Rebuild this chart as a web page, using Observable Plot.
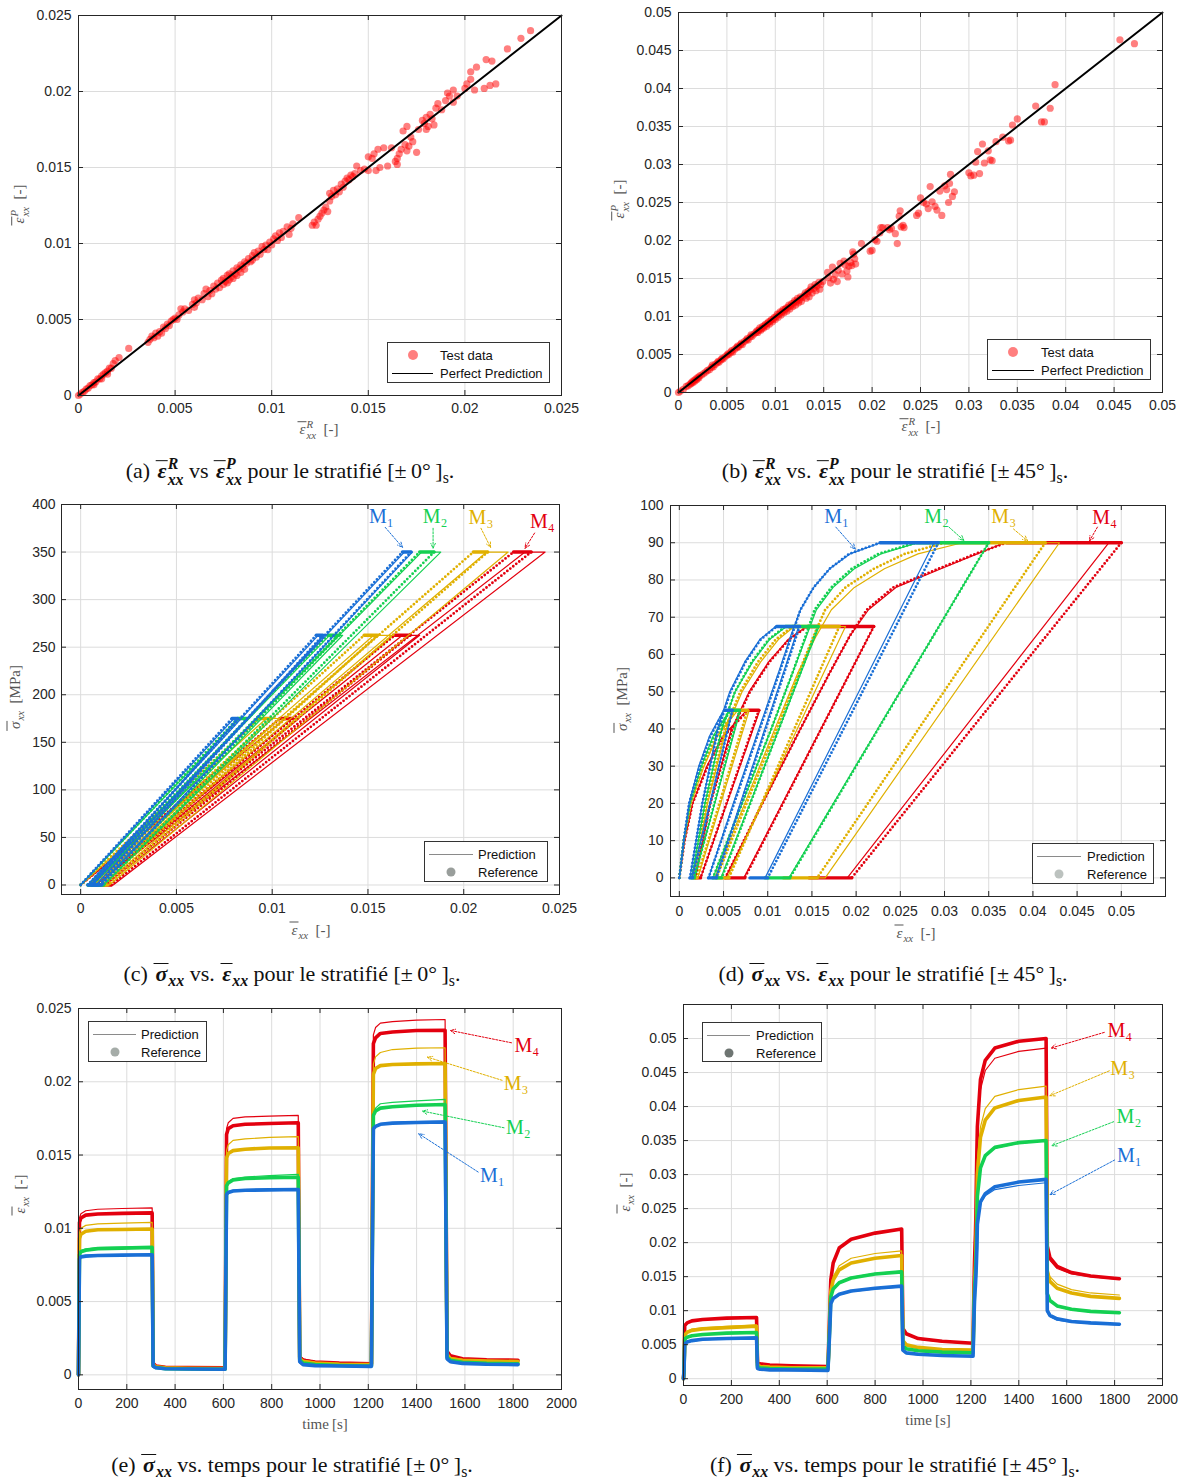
<!DOCTYPE html>
<html><head><meta charset="utf-8">
<script src="https://cdn.jsdelivr.net/npm/d3@7"></script>
<script src="https://cdn.jsdelivr.net/npm/@observablehq/plot@0.6"></script>
<style>
body{margin:0;background:#fff;}
#fig{position:relative;width:1188px;height:1479px;overflow:hidden;background:#fff;}
.panel{position:absolute;}
.cap{position:absolute;font-family:"Liberation Serif","Times New Roman",serif;font-size:22px;color:#111;white-space:nowrap;transform:translate(-50%,-50%);}
.lab{position:absolute;font-family:"Liberation Serif","Times New Roman",serif;font-size:15px;color:#555;white-space:nowrap;}
.xlab{transform:translate(-50%,-50%);}
.ylab{transform:translate(-50%,-50%) rotate(-90deg);}
.mth{font-style:italic;}
.mth.b{font-weight:bold;}
.ov{display:inline-block;border-top:1px solid currentColor;line-height:0.85;padding:1px 1px 0 2px;}
.mth.b .ov{border-top-width:1.6px;}
.ss{display:inline-block;vertical-align:-0.45em;font-size:0.72em;line-height:1.0;text-align:left;}
.ss span{display:block;}
sub{font-size:0.72em;line-height:0;}
.leg{position:absolute;border:1px solid #333;background:#fff;font-family:"Liberation Sans",Arial,sans-serif;font-size:13px;color:#111;box-sizing:border-box;}
.leg .t{position:absolute;transform:translateY(-50%);white-space:nowrap;}
.leg .ln{position:absolute;height:0;border-top:1.5px solid #888;}
.leg .dt{position:absolute;border-radius:50%;transform:translate(-50%,-50%);}
</style>
</head><body><div id="fig"></div>
<script>
// ---------------- DATA ----------------
// (a) scatter, laminate [±0°]s : [reference strain, predicted strain]
const pointsA = [
[0,0],[0.0001,0.0001],[0.0002,0.0002],[0.0003,0.00028],[0.0004,0.00042],[0.0005,0.00048],[0.0006,0.00065],[0.0007,0.0007],[0.0008,0.00085],[0.0009,0.0009],[0.001,0.0011],[0.0011,0.0011],[0.0012,0.0013],[0.0013,0.0014],[0.0014,0.0015],[0.0015,0.0016],[0.0016,0.0018],[0.0017,0.0018],[0.0018,0.0021],[0.0019,0.0023],[0.0021,0.0025],[0.0026,0.0031],[0.0008,0.0007],[0.0012,0.0011],[0.0015,0.0014],
[0.0036,0.0035],[0.0037,0.0037],[0.0038,0.0039],[0.0039,0.0038],[0.004,0.0041],[0.0041,0.0039],[0.0042,0.0042],[0.0043,0.0041],[0.0044,0.0045],[0.0045,0.0044],[0.0046,0.0047],[0.0047,0.0046],[0.0048,0.0049],[0.0049,0.005],[0.005,0.0051],[0.0051,0.005],[0.0052,0.0053],[0.0053,0.0057],
[0.0054,0.0055],[0.0055,0.0057],[0.0057,0.0056],[0.0059,0.006],[0.006,0.0058],[0.006,0.0063],[0.0061,0.0061],[0.0062,0.0064],[0.0064,0.0063],[0.0065,0.0067],[0.0066,0.007],[0.0067,0.0065],
[0.0068,0.0069],[0.0069,0.0067],[0.007,0.0072],[0.0071,0.007],[0.0072,0.0074],[0.0073,0.0071],[0.0074,0.0076],[0.0075,0.0073],[0.0075,0.0077],[0.0076,0.0075],[0.0077,0.0079],[0.0077,0.0074],[0.0078,0.008],[0.0078,0.0076],[0.0079,0.0078],[0.008,0.0082],[0.008,0.0077],[0.0081,0.008],[0.0082,0.0084],[0.0082,0.0079],[0.0083,0.0083],[0.0084,0.0086],[0.0084,0.0081],[0.0085,0.0085],[0.0086,0.0088],[0.0086,0.0083],[0.0087,0.0087],[0.0088,0.009],[0.0089,0.0088],[0.009,0.0092],[0.009,0.0089],[0.0091,0.0094],[0.0092,0.0091],[0.0093,0.0095],[0.0094,0.0093],[0.0095,0.0098],[0.0096,0.0096],[0.0097,0.0099],[0.0098,0.0096],[0.0099,0.0101],[0.01,0.0099],[0.0101,0.0103],[0.0102,0.0105],[0.0103,0.0102],[0.0104,0.0107],[0.0105,0.0104],[0.0106,0.0108],[0.0108,0.0111],[0.011,0.011],[0.0111,0.0113],[0.0114,0.0117],[0.0109,0.0106],
[0.0121,0.0112],[0.0122,0.0114],[0.0123,0.0112],[0.0124,0.0116],[0.0125,0.0118],[0.0126,0.012],[0.0127,0.0122],[0.0128,0.0124],[0.0129,0.0121],
[0.013,0.0128],[0.013,0.0133],[0.0131,0.0131],[0.0132,0.0135],[0.0133,0.0132],[0.0134,0.0136],[0.0135,0.0134],[0.0136,0.0139],[0.0137,0.0137],[0.0138,0.0141],[0.0139,0.0143],[0.014,0.0142],[0.0141,0.0145],[0.0142,0.0144],[0.0143,0.0146],
[0.0144,0.0151],[0.0146,0.0148],[0.0148,0.0149],[0.015,0.0157],[0.015,0.0148],[0.0152,0.0156],[0.0153,0.0159],[0.0154,0.0148],[0.0155,0.0162],[0.0156,0.015],[0.0158,0.0163],[0.016,0.0151],[0.0162,0.0163],
[0.0164,0.0154],[0.0165,0.0156],[0.0165,0.0152],[0.0166,0.0159],[0.0167,0.0162],[0.0169,0.0165],[0.017,0.0161],[0.0171,0.0164],[0.0172,0.017],[0.0173,0.0167],[0.0175,0.016],[0.017,0.0177],[0.0168,0.0174],
[0.0176,0.0175],[0.0178,0.0181],[0.0179,0.0179],[0.018,0.0183],[0.018,0.0175],[0.0181,0.0177],[0.0182,0.0185],[0.0183,0.0182],[0.0184,0.0178],[0.0185,0.0189],[0.0186,0.0192],[0.0188,0.0188],[0.019,0.0194],[0.0191,0.0199],[0.0192,0.0197],[0.0194,0.0201],[0.0194,0.0193],
[0.0196,0.0197],[0.02,0.0202],[0.0201,0.0205],[0.0203,0.0213],[0.0203,0.0208],[0.0205,0.0201],[0.0206,0.0216],[0.021,0.0202],[0.0211,0.0221],[0.0214,0.022],[0.0213,0.0204],[0.0216,0.0205],[0.0222,0.0228],[0.0229,0.0235],[0.0234,0.024]
];
// (b) scatter, laminate [±45°]s
const pointsB = [
[0,0],[0.0002,0.0002],[0.0005,0.0004],[0.0008,0.0008],[0.001,0.0009],[0.0012,0.0011],[0.0013,0.0012],[0.0014,0.0014],[0.0015,0.0013],[0.0016,0.0016],[0.0017,0.0015],[0.0018,0.0018],[0.0019,0.0017],[0.002,0.002],[0.0021,0.0019],[0.0022,0.0022],[0.0024,0.0023],[0.0026,0.0025],[0.0028,0.0027],
[0.003,0.0029],[0.0032,0.003],[0.0034,0.0033],[0.0035,0.0036],[0.0036,0.0034],[0.0038,0.0037],[0.004,0.0039],[0.0041,0.0041],[0.0042,0.004],[0.0044,0.0043],[0.0045,0.0045],[0.0046,0.0044],[0.0048,0.0047],[0.005,0.0049],[0.0051,0.0051],[0.0052,0.005],[0.0054,0.0053],[0.0055,0.0055],[0.0056,0.0053],[0.0058,0.0057],[0.006,0.0059],[0.0061,0.0061],[0.0062,0.006],[0.0064,0.0063],[0.0065,0.0065],[0.0066,0.0063],[0.0068,0.0067],[0.007,0.0069],[0.0071,0.0071],[0.0072,0.0069],[0.0074,0.0073],[0.0075,0.0076],[0.0076,0.0074],[0.0078,0.0077],[0.008,0.0079],[0.0081,0.0081],
[0.0082,0.0079],[0.0083,0.0082],[0.0084,0.0085],[0.0085,0.0082],[0.0086,0.0084],[0.0087,0.0087],[0.0088,0.0085],[0.0089,0.0088],[0.009,0.009],[0.0091,0.0087],[0.0092,0.0091],[0.0093,0.0093],[0.0094,0.009],[0.0095,0.0094],[0.0096,0.0096],[0.0097,0.0093],[0.0098,0.0097],[0.0099,0.0099],[0.01,0.0096],[0.0101,0.01],[0.0102,0.0103],[0.0103,0.0099],[0.0104,0.0103],[0.0105,0.0106],[0.0106,0.0102],[0.0107,0.0106],[0.0108,0.0109],[0.0109,0.0105],[0.011,0.0109],[0.0111,0.0111],[0.0112,0.0107],[0.0113,0.0112],[0.0114,0.0115],[0.0115,0.011],[0.0116,0.0114],[0.0117,0.0117],[0.0118,0.0113],[0.0119,0.0118],[0.012,0.0121],[0.0121,0.0115],[0.0122,0.012],[0.0123,0.0124],[0.0124,0.0118],[0.0125,0.0122],[0.0126,0.0126],[0.0127,0.012],[0.0128,0.0125],[0.013,0.0128],[0.0131,0.0131],[0.0132,0.0124],[0.0133,0.013],[0.0134,0.0133],[0.0135,0.0126],[0.0136,0.0135],[0.0137,0.0139],[0.0138,0.0131],[0.014,0.0137],[0.0141,0.0142],[0.0142,0.0134],[0.0143,0.014],[0.0145,0.0145],[0.0146,0.0136],[0.0147,0.0142],[0.0149,0.0146],
[0.0154,0.0158],[0.0155,0.0151],[0.0157,0.0144],[0.0159,0.0165],[0.016,0.0149],[0.0162,0.0155],[0.0164,0.0146],[0.0165,0.0161],[0.0167,0.017],[0.0169,0.0156],[0.0171,0.0173],[0.0172,0.0168],[0.0174,0.016],[0.0175,0.0152],[0.0176,0.0166],[0.0178,0.0171],[0.0179,0.0167],[0.018,0.0185],[0.0181,0.0182],[0.0182,0.0176],[0.0183,0.0169],[0.0189,0.0196],[0.0198,0.0186],[0.02,0.0187],[0.0203,0.0201],[0.0205,0.0199],
[0.0208,0.021],[0.0209,0.0217],[0.0211,0.0217],[0.0216,0.0217],[0.0218,0.0214],[0.022,0.0216],[0.0224,0.0209],[0.0226,0.0196],[0.0228,0.0232],[0.023,0.0218],[0.0233,0.0217],[0.0229,0.0239],[0.0232,0.022],[0.0246,0.0233],[0.0248,0.0236],[0.025,0.0256],[0.0253,0.025],[0.0256,0.0248],[0.0258,0.0242],[0.026,0.0271],[0.0262,0.0251],[0.0265,0.0245],[0.0267,0.024],[0.027,0.0265],[0.0272,0.0233],[0.0275,0.0272],[0.0277,0.0267],[0.0279,0.025],[0.0281,0.0287],[0.0283,0.0258],[0.0285,0.0264],[0.028,0.0275],
[0.03,0.0289],[0.0302,0.0285],[0.0305,0.0286],[0.0307,0.0303],[0.0309,0.0317],[0.0311,0.0288],[0.0314,0.0327],[0.0316,0.0302],[0.032,0.0318],[0.0322,0.0306],[0.0324,0.0305],[0.0328,0.033],[0.0335,0.0336],[0.0341,0.0331],[0.0343,0.0332],[0.0345,0.0352],[0.035,0.036],[0.0369,0.0377],[0.0375,0.0356],[0.0378,0.0356],[0.0384,0.0374],[0.0389,0.0405],[0.0456,0.0464],[0.0471,0.0459]
];
const perfectA = [0, 0.025];
const perfectB = [0, 0.05];

// [±0°]s creep-recovery history (panels c, e)
const time0   = [0,4,10,30,80,180,305,309,320,360,450,607,613,620,640,690,790,910,916,930,980,1080,1213,1221,1230,1250,1300,1400,1518,1526,1540,1590,1690,1820];
const stress0 = [0,175,175,175,175,175,175,0,0,0,0,0,262.5,262.5,262.5,262.5,262.5,262.5,0,0,0,0,0,350,350,350,350,350,350,0,0,0,0,0];
const m1Ref0  = [0,0.0079,0.00805,0.0081,0.00814,0.00817,0.0082,0.0006,0.00048,0.00042,0.0004,0.00038,0.0123,0.01245,0.01255,0.0126,0.01262,0.01265,0.0009,0.0007,0.00063,0.0006,0.00058,0.0168,0.01695,0.0171,0.01718,0.01722,0.01725,0.0011,0.0009,0.00078,0.00072,0.0007];
const m1Pred0 = [0,0.008,0.0081,0.00815,0.00818,0.0082,0.00822,0.0005,0.00045,0.0004,0.00038,0.00036,0.0124,0.0125,0.0126,0.01265,0.01268,0.0127,0.0008,0.0007,0.00062,0.00058,0.00056,0.0169,0.017,0.01715,0.01722,0.01728,0.01732,0.001,0.00085,0.00076,0.0007,0.00068];
const m2Ref0  = [0,0.0082,0.0084,0.0085,0.0086,0.00865,0.0087,0.0006,0.0005,0.00042,0.0004,0.00038,0.0129,0.0131,0.0133,0.0134,0.01345,0.01348,0.001,0.0008,0.0007,0.00064,0.0006,0.0177,0.018,0.0182,0.0183,0.0184,0.01845,0.0012,0.001,0.00085,0.00078,0.00075];
const m2Pred0 = [0,0.0083,0.0085,0.0086,0.0087,0.00872,0.00875,0.0006,0.0005,0.00043,0.0004,0.00039,0.013,0.0132,0.0134,0.0135,0.0136,0.01368,0.001,0.0008,0.0007,0.00065,0.00062,0.0178,0.0182,0.0185,0.0186,0.0187,0.0188,0.0012,0.001,0.00086,0.0008,0.00077];
const m3Ref0  = [0,0.0093,0.0096,0.0098,0.0099,0.00992,0.00995,0.0007,0.00055,0.00048,0.00045,0.00043,0.0148,0.0151,0.0153,0.0154,0.01548,0.0155,0.0011,0.0009,0.0008,0.00072,0.0007,0.0205,0.0209,0.0211,0.02118,0.02122,0.02125,0.0014,0.0011,0.001,0.00095,0.0009];
const m3Pred0 = [0,0.0097,0.01,0.0102,0.0103,0.01035,0.0104,0.0007,0.0006,0.0005,0.00048,0.00046,0.0153,0.0157,0.016,0.0161,0.0162,0.01625,0.0012,0.001,0.00085,0.00078,0.00074,0.0212,0.0217,0.022,0.0222,0.0223,0.02232,0.0015,0.0012,0.00105,0.00098,0.00095];
const m4Ref0  = [0,0.0104,0.0107,0.0109,0.01098,0.01102,0.01105,0.0008,0.0006,0.00052,0.0005,0.00048,0.0164,0.0168,0.017,0.0171,0.01715,0.0172,0.0012,0.001,0.00088,0.0008,0.00076,0.0226,0.023,0.0233,0.0234,0.0235,0.02352,0.0016,0.0013,0.0011,0.00102,0.001];
const m4Pred0 = [0,0.0107,0.011,0.0112,0.0113,0.01135,0.0114,0.0008,0.00065,0.00055,0.0005,0.00048,0.0168,0.0172,0.0175,0.0176,0.01765,0.0177,0.0013,0.0011,0.0009,0.00082,0.00078,0.0232,0.0237,0.024,0.0241,0.0242,0.02425,0.0017,0.0013,0.0011,0.00104,0.001];

// [±45°]s creep-recovery history (panels d, f)
const time45   = [0,1,2,3,4,5, 15,35,80,180,305, 309, 320,360,450,603, 605,607,609,611,613,615, 625,650,700,800,911, 916, 930,980,1080,1209, 1211,1213,1215,1217,1219,1221,1223,1225,1227, 1240,1260,1300,1400,1514, 1519, 1530,1560,1620,1700,1820];
const stress45 = [0,10,20,30,38,45, 45,45,45,45,45, 0, 0,0,0,0, 20,40,50,58,64,67.5, 67.5,67.5,67.5,67.5,67.5, 0, 0,0,0,0, 20,40,55,65,72,78,83,87,90, 90,90,90,90,90, 0, 0,0,0,0,0];
const m1Ref45  = [0,0.0005,0.0011,0.0023,0.0035,0.0051, 0.0054,0.0056,0.0058,0.0059,0.006, 0.0015, 0.0014,0.0013,0.0013,0.0012, 0.0026,0.0044,0.0058,0.0075,0.0092,0.011, 0.0118,0.0124,0.0129,0.0133,0.0136, 0.0042, 0.0038,0.0036,0.0034,0.0033, 0.0062,0.0091,0.0113,0.0127,0.0137,0.0152,0.017,0.0192,0.0227, 0.026,0.0272,0.0282,0.0289,0.0293, 0.01, 0.0093,0.0088,0.0084,0.0082,0.008];
const m1Pred45 = [0,0.0005,0.0011,0.0022,0.0034,0.005, 0.0053,0.0055,0.0057,0.0059,0.006, 0.0014, 0.0013,0.0013,0.0012,0.0012, 0.0026,0.0043,0.0057,0.0074,0.0091,0.0109, 0.0117,0.0123,0.0128,0.0132,0.0135, 0.0041, 0.0037,0.0035,0.0034,0.0033, 0.0061,0.009,0.0112,0.0126,0.0137,0.0152,0.017,0.0193,0.0228, 0.0258,0.0269,0.0278,0.0284,0.0288, 0.0097, 0.0091,0.0086,0.0083,0.0081,0.0079];
const m2Ref45  = [0,0.0005,0.0012,0.0025,0.0039,0.0058, 0.0061,0.0063,0.0065,0.0067,0.0068, 0.0017, 0.0016,0.0015,0.0014,0.0014, 0.0029,0.0048,0.0063,0.0082,0.0101,0.012, 0.0132,0.0141,0.0148,0.0154,0.0157, 0.0048, 0.0044,0.0041,0.0039,0.0038, 0.0071,0.0104,0.0128,0.0143,0.0153,0.0172,0.0195,0.0225,0.0268, 0.031,0.0328,0.034,0.0347,0.035, 0.0125, 0.0115,0.0107,0.0102,0.0099,0.0097];
const m2Pred45 = [0,0.0005,0.0012,0.0025,0.0038,0.0057, 0.006,0.0063,0.0065,0.0067,0.0069, 0.0017, 0.0016,0.0015,0.0015,0.0014, 0.0029,0.0048,0.0063,0.0083,0.0102,0.0121, 0.0133,0.0142,0.0149,0.0155,0.0158, 0.0047, 0.0043,0.0041,0.0039,0.0038, 0.0071,0.0104,0.0128,0.0144,0.0155,0.0174,0.0198,0.0228,0.027, 0.0308,0.0327,0.0339,0.0346,0.035, 0.0124, 0.0114,0.0106,0.0101,0.0098,0.0096];
const m3Ref45  = [0,0.0005,0.0013,0.0027,0.0042,0.0064, 0.0068,0.0071,0.0073,0.0075,0.0077, 0.002, 0.0018,0.0017,0.0016,0.0016, 0.0031,0.0052,0.0069,0.0089,0.0109,0.0128, 0.0145,0.016,0.017,0.0177,0.0181, 0.0056, 0.005,0.0046,0.0043,0.0042, 0.0076,0.011,0.0135,0.0152,0.0165,0.0188,0.022,0.0255,0.03, 0.0355,0.038,0.0398,0.0409,0.0414, 0.0156, 0.0143,0.0133,0.0126,0.0121,0.0118];
const m3Pred45 = [0,0.0005,0.0013,0.0028,0.0043,0.0066, 0.007,0.0073,0.0075,0.0077,0.0079, 0.0021, 0.0019,0.0018,0.0017,0.0016, 0.0032,0.0053,0.0071,0.0092,0.0112,0.013, 0.015,0.0166,0.0177,0.0184,0.0188, 0.0054, 0.0048,0.0044,0.0041,0.004, 0.0074,0.0108,0.0134,0.0155,0.0172,0.0198,0.0232,0.027,0.032, 0.037,0.0397,0.0415,0.0425,0.043, 0.0165, 0.015,0.0139,0.0131,0.0126,0.0123];
const m4Ref45  = [0,0.0006,0.0015,0.0032,0.005,0.0078, 0.0082,0.0085,0.0087,0.0089,0.009, 0.0024, 0.0022,0.002,0.0019,0.0018, 0.0035,0.006,0.008,0.0102,0.0124,0.0145, 0.017,0.0192,0.0205,0.0214,0.022, 0.0074, 0.0066,0.0059,0.0055,0.0052, 0.0094,0.0137,0.017,0.0193,0.0212,0.0242,0.0293,0.0335,0.037, 0.044,0.0468,0.0486,0.0496,0.05, 0.0195, 0.0178,0.0165,0.0156,0.0151,0.0147];
const m4Pred45 = [0,0.0006,0.0015,0.0031,0.0049,0.0076, 0.0081,0.0085,0.0087,0.0089,0.0091, 0.0024, 0.0022,0.002,0.0019,0.0018, 0.0035,0.0059,0.0079,0.0101,0.0123,0.0144, 0.017,0.0192,0.0205,0.0214,0.022, 0.0073, 0.0065,0.0058,0.0054,0.0052, 0.0094,0.0137,0.017,0.0193,0.0214,0.0245,0.0296,0.0337,0.0368, 0.0425,0.0453,0.0471,0.0481,0.0486, 0.019, 0.0174,0.0162,0.0154,0.015,0.0146];

// tick values
const ticksA = [0,0.005,0.01,0.015,0.02,0.025];
const ticksB = [0,0.005,0.01,0.015,0.02,0.025,0.03,0.035,0.04,0.045,0.05];
const stressTicks0 = [0,50,100,150,200,250,300,350,400];
const stressTicks45 = [0,10,20,30,40,50,60,70,80,90,100];
const timeTicks = [0,200,400,600,800,1000,1200,1400,1600,1800,2000];

// material labels and their arrow annotations
const annC = [
 {mat:"M1",label:"M₁",tx:0.0157,ty:387,x1:0.0159,y1:376,x2:0.0168,y2:355},
 {mat:"M2",label:"M₂",tx:0.0185,ty:387,x1:0.0184,y1:375,x2:0.0184,y2:354},
 {mat:"M3",label:"M₃",tx:0.0209,ty:386,x1:0.0209,y1:375,x2:0.0214,y2:355},
 {mat:"M4",label:"M₄",tx:0.0241,ty:382,x1:0.0237,y1:370,x2:0.0232,y2:354}];
const annD = [
 {mat:"M1",label:"M₁",tx:0.0178,ty:97,x1:0.0177,y1:94.2,x2:0.0199,y2:88.3},
 {mat:"M2",label:"M₂",tx:0.0291,ty:97,x1:0.0305,y1:94.2,x2:0.0322,y2:90.6},
 {mat:"M3",label:"M₃",tx:0.0367,ty:97,x1:0.0378,y1:93.7,x2:0.0394,y2:90.5},
 {mat:"M4",label:"M₄",tx:0.0481,ty:96.8,x1:0.0473,y1:94.2,x2:0.0464,y2:90.5}];
const annE = [
 {mat:"M4",label:"M₄",tx:1857,ty:0.02245,x1:1793,y1:0.02266,x2:1540,y2:0.0235},
 {mat:"M3",label:"M₃",tx:1812,ty:0.0199,x1:1754,y1:0.0201,x2:1445,y2:0.02168},
 {mat:"M2",label:"M₂",tx:1821,ty:0.0169,x1:1762,y1:0.01686,x2:1424,y2:0.018},
 {mat:"M1",label:"M₁",tx:1714,ty:0.01361,x1:1655,y1:0.01384,x2:1409,y2:0.01645}];
const annF = [
 {mat:"M4",label:"M₄",tx:1822,ty:0.0512,x1:1757,y1:0.0509,x2:1535,y2:0.0486},
 {mat:"M3",label:"M₃",tx:1834,ty:0.0456,x1:1778,y1:0.04525,x2:1530,y2:0.0416},
 {mat:"M2",label:"M₂",tx:1860,ty:0.0385,x1:1796,y1:0.03777,x2:1538,y2:0.03425},
 {mat:"M1",label:"M₁",tx:1862,ty:0.0328,x1:1800,y1:0.03214,x2:1530,y2:0.02706}];

// ---------------- STYLE ----------------
const COLORS = {M1:"#1a6fd6", M2:"#14d052", M3:"#e0b000", M4:"#e3000f"};
const DRAW_ORDER = ["M4","M3","M2","M1"];

const ref0  = {M1:m1Ref0, M2:m2Ref0, M3:m3Ref0, M4:m4Ref0};
const pred0 = {M1:m1Pred0, M2:m2Pred0, M3:m3Pred0, M4:m4Pred0};
const ref45  = {M1:m1Ref45, M2:m2Ref45, M3:m3Ref45, M4:m4Ref45};
const pred45 = {M1:m1Pred45, M2:m2Pred45, M3:m3Pred45, M4:m4Pred45};

function rows(time, stress, strain){ return time.map((t,i)=>({t, s:stress[i], e:strain[i]})); }
function splitRuns(r){
  const ramps=[], holds=[]; let cur=null, curType=null;
  for(let i=1;i<r.length;i++){
    const type = r[i-1].s===r[i].s ? "hold" : "ramp";
    if(type!==curType){ cur=[r[i-1]]; (type==="hold"?holds:ramps).push(cur); curType=type; }
    cur.push(r[i]);
  }
  const flat = gs => gs.flatMap((g,k)=>g.map(p=>({...p,g:k})));
  return {ramps:flat(ramps), holds:flat(holds)};
}

function ssMarks(time, stress, refs, preds){
  const out=[];
  for(const m of DRAW_ORDER){
    const c = COLORS[m];
    const {ramps, holds} = splitRuns(rows(time, stress, refs[m]));
    out.push(Plot.line(holds,{x:"e",y:"s",z:"g",stroke:c,strokeWidth:3.4}));
    out.push(Plot.line(ramps,{x:"e",y:"s",z:"g",stroke:c,strokeWidth:2.8,strokeDasharray:"0 3.8",strokeLinecap:"round"}));
    out.push(Plot.line(rows(time, stress, preds[m]),{x:"e",y:"s",stroke:c,strokeWidth:1.2}));
  }
  return out;
}
function timeMarks(time, stress, refs, preds){
  const out=[];
  for(const m of DRAW_ORDER){
    const c = COLORS[m];
    out.push(Plot.line(rows(time, stress, refs[m]),{x:"t",y:"e",stroke:c,strokeWidth:3.6}));
    out.push(Plot.line(rows(time, stress, preds[m]),{x:"t",y:"e",stroke:c,strokeWidth:1.2}));
  }
  return out;
}
function annMarks(ann){
  return [
    Plot.arrow(ann,{x1:"x1",y1:"y1",x2:"x2",y2:"y2",stroke:d=>COLORS[d.mat],strokeWidth:1,strokeDasharray:"2 1.5",headLength:8,headAngle:50}),
    Plot.text(ann,{x:"tx",y:"ty",text:"label",fill:d=>COLORS[d.mat],fontSize:20,fontFamily:"'Liberation Serif','Times New Roman',serif"})
  ];
}

const fig = document.getElementById("fig");
function makePanel(cfg){
  const {left, top, height, frame, xDomain, yDomain, xTicks, yTicks, marks, xPad=8, yPad=7} = cfg;
  const width = 594;
  const [fl, fr, ft, fb] = frame;
  const pw = fr-fl, ph = fb-ft;
  const chart = Plot.plot({
    width, height,
    marginLeft: fl-left, marginRight: left+width-fr, marginTop: ft-top, marginBottom: top+height-fb,
    x:{domain:xDomain}, y:{domain:yDomain}, color:{type:"identity"},
    style:{fontFamily:"'Liberation Sans', Arial, sans-serif", fontSize:"14px", color:"#262626", background:"transparent", overflow:"visible"},
    marks:[
      Plot.gridX({ticks:xTicks, stroke:"#dcdcdc", strokeOpacity:1}),
      Plot.gridY({ticks:yTicks, stroke:"#dcdcdc", strokeOpacity:1}),
      ...marks,
      Plot.frame({stroke:"#262626", strokeWidth:1}),
      Plot.tickX(xTicks,{x:d=>d, insetTop:ph-5, stroke:"#262626"}),
      Plot.tickX(xTicks,{x:d=>d, insetBottom:ph-5, stroke:"#262626"}),
      Plot.tickY(yTicks,{y:d=>d, insetRight:pw-5, stroke:"#262626"}),
      Plot.tickY(yTicks,{y:d=>d, insetLeft:pw-5, stroke:"#262626"}),
      Plot.axisX({ticks:xTicks, tickSize:0, tickPadding:xPad, tickFormat:d=>String(d), label:null, fill:"#262626"}),
      Plot.axisY({ticks:yTicks, tickSize:0, tickPadding:yPad, tickFormat:d=>String(d), label:null, fill:"#262626"})
    ]
  });
  const div = document.createElement("div");
  div.className="panel"; div.style.left=left+"px"; div.style.top=top+"px";
  div.appendChild(chart); fig.appendChild(div);
}

// ---------- panels ----------
makePanel({left:0, top:0, height:420, frame:[78,561,15,395], xDomain:[0,0.025], yDomain:[0,0.025], xTicks:ticksA, yTicks:ticksA,
  marks:[
    Plot.dot(pointsA,{x:d=>d[0], y:d=>d[1], r:3.6, fill:"#ff0000", fillOpacity:0.5}),
    Plot.line(perfectA,{x:d=>d, y:d=>d, stroke:"#000", strokeWidth:2})
  ]});
makePanel({left:594, top:0, height:420, frame:[678,1162,12,392], xDomain:[0,0.05], yDomain:[0,0.05], xTicks:ticksB, yTicks:ticksB,
  marks:[
    Plot.dot(pointsB,{x:d=>d[0], y:d=>d[1], r:3.6, fill:"#ff0000", fillOpacity:0.5}),
    Plot.line(perfectB,{x:d=>d, y:d=>d, stroke:"#000", strokeWidth:2})
  ]});
makePanel({left:0, top:490, height:430, frame:[61,559,504,894], xDomain:[-0.001,0.025], yDomain:[-10,400], xTicks:ticksA, yTicks:stressTicks0, xPad:9, yPad:6,
  marks:[...ssMarks(time0, stress0, ref0, pred0), ...annMarks(annC)]});
makePanel({left:594, top:490, height:430, frame:[670,1165,505,896], xDomain:[-0.001,0.055], yDomain:[-5,100], xTicks:ticksB, yTicks:stressTicks45, xPad:10, yPad:7,
  marks:[...ssMarks(time45, stress45, ref45, pred45), ...annMarks(annD)]});
makePanel({left:0, top:995, height:420, frame:[78,561,1008,1389], xDomain:[0,2000], yDomain:[-0.001,0.025], xTicks:timeTicks, yTicks:ticksA, xPad:9,
  marks:[...timeMarks(time0, stress0, ref0, pred0), ...annMarks(annE)]});
makePanel({left:594, top:995, height:415, frame:[683,1162,1004,1385], xDomain:[0,2000], yDomain:[-0.001,0.055], xTicks:timeTicks, yTicks:ticksB, xPad:9,
  marks:[...timeMarks(time45, stress45, ref45, pred45), ...annMarks(annF)]});

// ---------- legends ----------
function legend(x,y,w,h,items,symEnd,textX){
  const d=document.createElement("div"); d.className="leg";
  Object.assign(d.style,{left:x+"px",top:y+"px",width:w+"px",height:h+"px"});
  const rowsY=[h*0.29,h*0.74];
  items.forEach((it,i)=>{
    if(it.type==="line"){
      const l=document.createElement("div"); l.className="ln";
      Object.assign(l.style,{left:"4px",width:(symEnd-4)+"px",top:rowsY[i]+"px",borderTopColor:it.color,borderTopWidth:(it.lw||1.5)+"px"});
      d.appendChild(l);
    } else {
      const c=document.createElement("div"); c.className="dt";
      Object.assign(c.style,{left:(symEnd/2+2)+"px",top:rowsY[i]+"px",width:it.size+"px",height:it.size+"px",background:it.color});
      d.appendChild(c);
    }
    const t=document.createElement("div"); t.className="t"; t.textContent=it.text;
    Object.assign(t.style,{left:textX+"px",top:rowsY[i]+"px"}); d.appendChild(t);
  });
  fig.appendChild(d);
}
legend(387,342,163,41,[{type:"dot",color:"rgba(255,0,0,0.5)",size:10,text:"Test data"},{type:"line",color:"#000",lw:1.3,text:"Perfect Prediction"}],45,52);
legend(987,339,164,41,[{type:"dot",color:"rgba(255,0,0,0.5)",size:10,text:"Test data"},{type:"line",color:"#000",lw:1.3,text:"Perfect Prediction"}],46,53);
legend(424,841,124,41,[{type:"line",color:"#8a8a8a",text:"Prediction"},{type:"dot",color:"#999e9b",size:9,text:"Reference"}],48,53);
legend(1032,843,122,41,[{type:"line",color:"#8a8a8a",text:"Prediction"},{type:"dot",color:"#bcc2bf",size:9,text:"Reference"}],48,54);
legend(88,1021,119,41,[{type:"line",color:"#8a8a8a",text:"Prediction"},{type:"dot",color:"#a5aca8",size:9,text:"Reference"}],47,52);
legend(702,1022,120,40,[{type:"line",color:"#8a8a8a",text:"Prediction"},{type:"dot",color:"#6e7572",size:9,text:"Reference"}],47,53);

// ---------- axis labels & captions ----------
function sym(ch, sup, bold){
  const cls = bold ? "mth b" : "mth";
  if(sup) return `<span class="${cls}"><span class="ov">${ch}</span><span class="ss"><span>${sup}</span><span>xx</span></span></span>`;
  return `<span class="${cls}"><span class="ov">${ch}</span><sub>xx</sub></span>`;
}
function addHTML(cls, x, y, html){
  const d=document.createElement("div"); d.className=cls; d.innerHTML=html;
  Object.assign(d.style,{left:x+"px",top:y+"px"}); fig.appendChild(d);
}
const lbl = [
 ["lab xlab",318,430, sym("ε","R")+"&nbsp;&nbsp;[-]"],
 ["lab ylab",20,205, sym("ε","P")+"&nbsp;&nbsp;[-]"],
 ["lab xlab",920,427, sym("ε","R")+"&nbsp;&nbsp;[-]"],
 ["lab ylab",620,200, sym("ε","P")+"&nbsp;&nbsp;[-]"],
 ["lab xlab",310,930, sym("ε")+"&nbsp;&nbsp;[-]"],
 ["lab ylab",15,698, sym("σ")+"&nbsp;&nbsp;[MPa]"],
 ["lab xlab",915,933, sym("ε")+"&nbsp;&nbsp;[-]"],
 ["lab ylab",622,700, sym("σ")+"&nbsp;&nbsp;[MPa]"],
 ["lab xlab",325,1424, "time&thinsp;[s]"],
 ["lab ylab",20,1195, sym("ε")+"&nbsp;&nbsp;[-]"],
 ["lab xlab",928,1420, "time&thinsp;[s]"],
 ["lab ylab",625,1193, sym("ε")+"&nbsp;&nbsp;[-]"]
];
lbl.forEach(a=>addHTML(...a));
const lam0 = "pour le stratifié [±&thinsp;0°&thinsp;]<sub>s</sub>.";
const lam45 = "pour le stratifié [±&thinsp;45°&thinsp;]<sub>s</sub>.";
addHTML("cap",290,472, `(a) ${sym("ε","R",true)} vs ${sym("ε","P",true)} ${lam0}`);
addHTML("cap",895,472, `(b) ${sym("ε","R",true)} vs. ${sym("ε","P",true)} ${lam45}`);
addHTML("cap",292,974, `(c) ${sym("σ","",true)} vs. ${sym("ε","",true)} ${lam0}`);
addHTML("cap",893,974, `(d) ${sym("σ","",true)} vs. ${sym("ε","",true)} ${lam45}`);
addHTML("cap",292,1465, `(e) ${sym("σ","",true)} vs. temps ${lam0}`);
addHTML("cap",895,1465, `(f) ${sym("σ","",true)} vs. temps ${lam45}`);
</script>
</body></html>
